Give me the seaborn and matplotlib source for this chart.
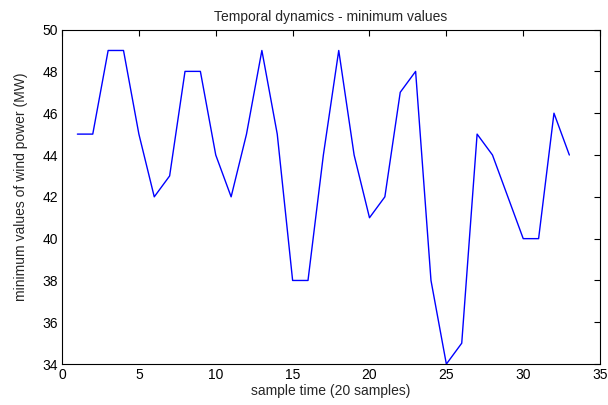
import matplotlib
matplotlib.use("Agg")
import matplotlib.pyplot as plt
import seaborn as sns
import pandas as pd

sample_time = list(range(1, 34))
min_power = [45, 45, 49, 49, 45, 42, 43, 48, 48, 44, 42, 45, 49, 45, 38, 38, 44, 49,
             44, 41, 42, 47, 48, 38, 34, 35, 45, 44, 42, 40, 40, 46, 44]
x_ticks = [0, 5, 10, 15, 20, 25, 30, 35]
y_ticks = [34, 36, 38, 40, 42, 44, 46, 48, 50]

sns.set_theme(style="white")
plt.rcParams['font.family'] = ['Liberation Sans', 'DejaVu Sans']

df = pd.DataFrame({"t": sample_time, "v": min_power})

fig = plt.figure(figsize=(6.08, 4.05), dpi=100)
ax = fig.add_axes([0.102, 0.101, 0.885, 0.826])
sns.lineplot(data=df, x="t", y="v", ax=ax, color="#0000ff", linewidth=1.0)

ax.set_xlim(0, 35)
ax.set_ylim(34, 50)
ax.set_xticks(x_ticks)
ax.set_yticks(y_ticks)
ax.tick_params(direction="in", top=True, right=True, length=4, width=0.8,
               labelsize=10, colors="black", pad=3)
for s in ax.spines.values():
    s.set_visible(True)
    s.set_color("black")
    s.set_linewidth(0.8)
ax.set_title("Temporal dynamics - minimum values", fontsize=10, pad=6)
ax.set_xlabel("sample time (20 samples)", fontsize=10, labelpad=1)
ax.set_ylabel("minimum values of wind power (MW)", fontsize=10)
ax.yaxis.set_label_coords(-0.063, 0.53)

fig.savefig("out.png", dpi=100)
